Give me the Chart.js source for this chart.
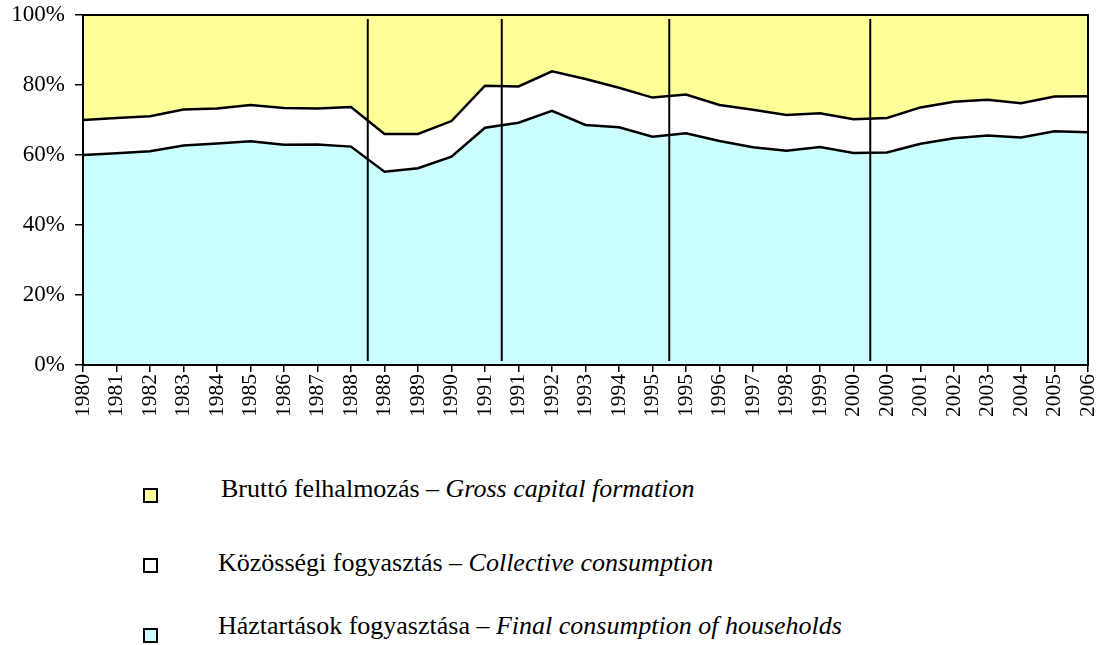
<!DOCTYPE html>
<html>
<head>
<meta charset="utf-8">
<script src="https://cdn.jsdelivr.net/npm/chart.js@4/dist/chart.umd.min.js"></script>
<style>
  body { margin: 0; background: #fff; font-family: "Liberation Serif", "Times New Roman", "DejaVu Serif", serif; }
  #wrap { position: relative; width: 1097px; height: 645px; }
  #chart { position: absolute; left: 0; top: 0; }
  .sq { position: absolute; width: 11px; height: 11px; border: 2px solid #000; }
  .lbl { position: absolute; font-size: 26px; line-height: 30px; color: #000; white-space: nowrap; }
</style>
</head>
<body>
<div id="wrap">
  <canvas id="chart" width="1097" height="435"></canvas>
  <div id="legend"></div>
</div>
<script>
const years = ["1980","1981","1982","1983","1984","1985","1986","1987","1988","1988","1989","1990","1991","1991","1992","1993","1994","1995","1995","1996","1997","1998","1999","2000","2000","2001","2002","2003","2004","2005","2006"];

// shares in %, bottom to top
const households = [60.0,60.5,61.1,62.7,63.3,63.9,62.9,63.0,62.4,55.2,56.2,59.5,67.8,69.2,72.6,68.6,67.9,65.2,66.2,64.0,62.2,61.2,62.3,60.6,60.7,63.2,64.8,65.6,65.0,66.8,66.5];
const collective = [10.0,10.1,10.0,10.3,10.0,10.4,10.5,10.3,11.3,10.8,9.8,10.2,12.0,10.4,11.3,13.1,11.3,11.2,11.1,10.3,10.7,10.2,9.6,9.6,9.9,10.4,10.4,10.2,9.8,9.9,10.3];
const gross = [30.0,29.4,28.9,27.0,26.7,25.7,26.6,26.7,26.3,34.0,34.0,30.3,20.2,20.4,16.1,18.3,20.8,23.6,22.7,25.7,27.1,28.6,28.1,29.8,29.4,26.4,24.8,24.2,25.2,23.3,23.2];

// series breaks sit between the duplicated years
const breaks = [8.5, 12.5, 17.5, 23.5];

const seriesHu = ["Bruttó felhalmozás", "Közösségi fogyasztás", "Háztartások fogyasztása"];
const seriesEn = ["Gross capital formation", "Collective consumption", "Final consumption of  households"];
const colors = ["#FFFF99", "#FFFFFF", "#CCFFFF"];

const serif = "'Liberation Serif', 'Times New Roman', 'DejaVu Serif', serif";

const frameAndBreaks = {
  id: "frameAndBreaks",
  afterDatasetsDraw(chart) {
    const { ctx, chartArea: a, scales: { x } } = chart;
    ctx.save();
    ctx.strokeStyle = "#000";
    ctx.lineWidth = 2;
    breaks.forEach(b => {
      const px = (x.getPixelForValue(Math.floor(b)) + x.getPixelForValue(Math.ceil(b))) / 2;
      ctx.beginPath();
      ctx.moveTo(px, a.top + 4);
      ctx.lineTo(px, a.bottom - 4);
      ctx.stroke();
    });
    ctx.strokeRect(a.left, a.top, a.right - a.left, a.bottom - a.top);
    ctx.restore();
  }
};

new Chart(document.getElementById("chart"), {
  type: "line",
  data: {
    labels: years,
    datasets: [
      { label: seriesHu[2], data: households, backgroundColor: colors[2], borderColor: "#000", borderWidth: 2.5, fill: "origin", pointRadius: 0, tension: 0 },
      { label: seriesHu[1], data: collective, backgroundColor: colors[1], borderColor: "#000", borderWidth: 2.5, fill: "-1", pointRadius: 0, tension: 0 },
      { label: seriesHu[0], data: gross, backgroundColor: colors[0], borderColor: "#000", borderWidth: 0, fill: "-1", pointRadius: 0, tension: 0 },
    ],
  },
  options: {
    responsive: false,
    animation: false,
    layout: { padding: { top: 15, right: 9, left: 0, bottom: 0 } },
    plugins: { legend: { display: false }, tooltip: { enabled: false } },
    scales: {
      x: {
        offset: false,
        grid: { drawOnChartArea: false, drawTicks: true, tickLength: 7, color: "#000", lineWidth: 1.5 },
        border: { display: true, color: "#000", width: 2 },
        ticks: { color: "#000", font: { family: serif, size: 21.5 }, minRotation: 90, maxRotation: 90, autoSkip: false, padding: 2 },
        afterFit: s => { s.height = 70; s.paddingLeft = 0; s.paddingRight = 0; },
      },
      y: {
        stacked: true,
        min: 0, max: 100,
        grid: { drawOnChartArea: false, drawTicks: true, tickLength: 8, color: "#000", lineWidth: 1.5 },
        border: { display: true, color: "#000", width: 2 },
        ticks: { stepSize: 20, color: "#000", font: { family: serif, size: 23 }, padding: 10, callback: v => v + "%" },
        afterFit: s => { s.width = 83; s.paddingTop = 0; s.paddingBottom = 0; },
      },
    },
  },
  plugins: [frameAndBreaks],
});

// legend below the chart
const legend = document.getElementById("legend");
const rows = [
  { sqTop: 488, txtTop: 474, txtLeft: 221 },
  { sqTop: 558, txtTop: 548, txtLeft: 218 },
  { sqTop: 628, txtTop: 611, txtLeft: 218 },
];
rows.forEach((r, i) => {
  const sq = document.createElement("div");
  sq.className = "sq";
  sq.style.left = "143px";
  sq.style.top = r.sqTop + "px";
  sq.style.background = colors[i];
  legend.appendChild(sq);
  const t = document.createElement("div");
  t.className = "lbl";
  t.style.left = r.txtLeft + "px";
  t.style.top = r.txtTop + "px";
  t.innerHTML = seriesHu[i] + " – <i>" + seriesEn[i] + "</i>";
  legend.appendChild(t);
});
</script>
</body>
</html>
